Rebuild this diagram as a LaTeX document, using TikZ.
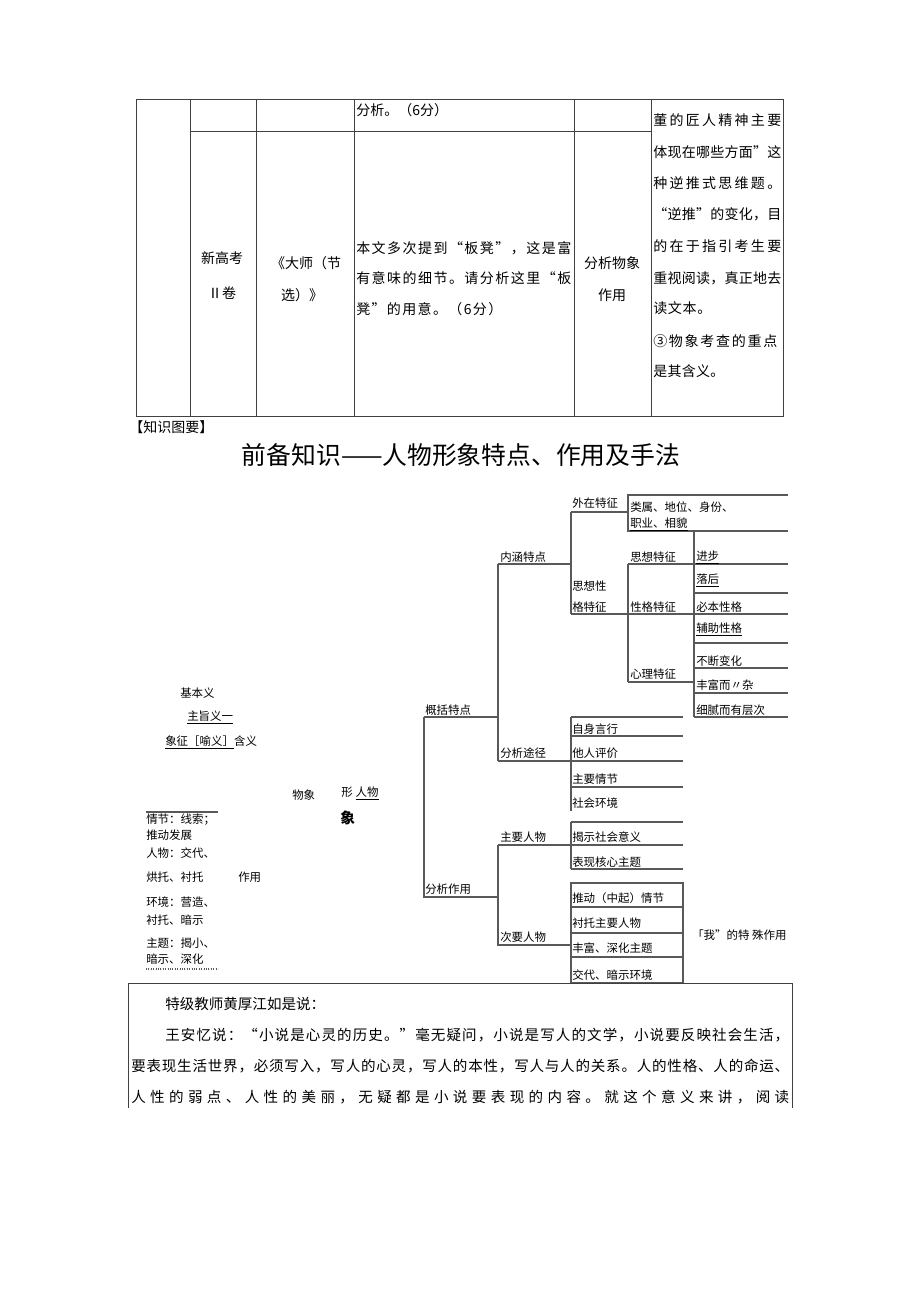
\documentclass[tikz,border=0pt]{standalone}
\usepackage{fontspec}
\newfontfamily\cjk{Noto Sans CJK SC}
\newlength\px \setlength\px{0.75pt}
\def\spreadit#1{\ifx\relax#1\else#1\hfil\expandafter\spreadit\fi}
\newcommand\jl[2]{\makebox[#1][s]{\spreadit#2\relax\unskip}}
\tikzset{
  tb/.style={anchor=west,inner sep=0,font=\cjk\fontsize{10.5}{12}\selectfont},
  tc/.style={anchor=center,inner sep=0,font=\cjk\fontsize{10.5}{12}\selectfont},
  mm/.style={anchor=west,inner sep=0,font=\cjk\fontsize{8.6}{10}\selectfont},
  bt/.style={anchor=west,inner sep=0,font=\cjk\fontsize{10.9}{12}\selectfont},
  rl/.style={line width=0.7pt,draw=black!75},
  ml/.style={line width=0.8pt,draw=black!65},
}
\begin{document}
\begin{tikzpicture}[x=0.75pt,y=-0.75pt]
\fill[white] (0,0) rectangle (920,1301);
\useasboundingbox (0,0) rectangle (920,1301);

% ---------------- table ----------------
\draw[rl] (136,99) rectangle (783,416);
\foreach \xx in {190,256,354,574,651} \draw[rl] (\xx,99) -- (\xx,416);
\draw[rl] (190,131) -- (651,131);

\node[tb] (t1) at (356,110) {分析。（6分）};
\node[tc] (t2) at (222,258) {新高考};
\node[tc] (t3) at (222,293) {Ⅱ卷};
\node[tc] (t4) at (306,263) {《大师（节};
\node[tc] (t5) at (302,295) {选）》};
\node[tb] (t6) at (356,248) {\jl{215\px}{本文多次提到“板凳”，这是富}};
\node[tb] (t7) at (356,278) {\jl{215\px}{有意味的细节。请分析这里“板}};
\node[tb] (t8) at (356,309) {\jl{146\px}{凳”的用意。（6分）}};
\node[tc] (t9) at (612,263) {分析物象};
\node[tc] (t10) at (612,295) {作用};
\node[tb] (c1) at (653,120) {\jl{128\px}{董的匠人精神主要}};
\node[tb] (c2) at (653,152) {\jl{128\px}{体现在哪些方面”这}};
\node[tb] (c3) at (653,183) {\jl{128\px}{种逆推式思维题。}};
\node[tb] (c4) at (653,214) {\jl{128\px}{“逆推”的变化，目}};
\node[tb] (c5) at (653,246) {\jl{128\px}{的在于指引考生要}};
\node[tb] (c6) at (653,278) {\jl{128\px}{重视阅读，真正地去}};
\node[tb] (c7) at (653,308) {\jl{58\px}{读文本。}};
\node[tb] (c8) at (653,341) {\jl{124\px}{③物象考查的重点}};
\node[tb] (c9) at (653,371) {\jl{71\px}{是其含义。}};

% ---------------- titles ----------------
\node[tb] (k1) at (129,427) {【知识图要】};
\node[anchor=center,inner sep=0,font=\cjk\fontsize{18.6}{20}\selectfont] (title) at (461,455) {前备知识——人物形象特点、作用及手法};

% ---------------- mind map lines ----------------
\draw[ml] (571,512) -- (628,512);
\draw[ml] (571,512) -- (571,614);
\draw[ml] (788,495) -- (628,495) -- (628,531) -- (788,531);
\draw[ml] (498,564) -- (571,564);
\draw[ml] (498,564) -- (498,761);
\draw[ml] (628,564) -- (788,564);
\draw[ml] (628,564) -- (628,682);
\draw[ml] (571,614) -- (788,614);
\draw[ml] (628,682) -- (694,682);
\draw[ml] (694,531) -- (694,717);
\foreach \yy in {593,643,668,693,717} \draw[ml] (694,\yy) -- (788,\yy);
\draw[ml] (424,717) -- (498,717);
\draw[ml] (424,717) -- (424,897) -- (498,897);
\draw[ml] (571,717) -- (571,811);
\foreach \yy in {717,736,787} \draw[ml] (571,\yy) -- (683,\yy);
\draw[ml] (498,761) -- (683,761);
\draw[ml] (571,822) -- (683,822);
\draw[ml] (498,845) -- (683,845);
\draw[ml] (571,869) -- (683,869);
\draw[ml] (571,822) -- (571,869);
\draw[ml] (498,845) -- (498,945) -- (571,945);
\draw[ml] (571,883) rectangle (683,983);
\foreach \yy in {907,933,957} \draw[ml] (571,\yy) -- (683,\yy);
\draw[ml] (146,812) -- (218,812);
\draw[ml,densely dotted] (146,969) -- (218,969);

% ---------------- mind map text ----------------
\node[mm] (a1) at (572,503) {外在特征};
\node[mm] (a2) at (630,507) {类属、地位、身份、};
\node[mm] (a3) at (630,524) {\underline{职业、相貌}};
\node[mm] (a4) at (500,557) {内涵特点};
\node[mm] (a5) at (630,557) {思想特征};
\node[mm] (a6) at (696,557) {\underline{进步}};
\node[mm] (a7) at (696,580) {\underline{落后}};
\node[mm] (a8) at (572,586) {思想性};
\node[mm] (a9) at (572,607) {格特征};
\node[mm] (a10) at (630,607) {性格特征};
\node[mm] (a11) at (696,607) {必本性格};
\node[mm] (a12) at (696,629) {\underline{辅助性格}};
\node[mm] (a13) at (696,661) {不断变化};
\node[mm] (a14) at (630,674) {心理特征};
\node[mm] (a15) at (696,685) {丰富而〃杂};
\node[mm] (a16) at (696,710) {细腻而有层次};
\node[mm] (b1) at (425,710) {概括特点};
\node[mm] (b2) at (572,729) {自身言行};
\node[mm] (b3) at (500,753) {分析途径};
\node[mm] (b4) at (572,753) {他人评价};
\node[mm] (b5) at (572,779) {主要情节};
\node[mm] (b6) at (572,803) {社会环境};
\node[mm] (b7) at (500,837) {主要人物};
\node[mm] (b8) at (572,837) {揭示社会意义};
\node[mm] (b9) at (572,862) {表现核心主题};
\node[mm] (b10) at (425,889) {分析作用};
\node[mm] (b11) at (572,898) {推动（中起）情节};
\node[mm] (b12) at (572,923) {衬托主要人物};
\node[mm] (b13) at (500,937) {次要人物};
\node[mm] (b14) at (572,948) {丰富、深化主题};
\node[mm] (b15) at (572,975) {交代、暗示环境};
\node[mm] (b16) at (692,935) {「我”的特 殊作用};

\node[mm] (l1) at (180,693) {基本义};
\node[mm] (l2) at (187,717) {\underline{主旨义一}};
\node[mm] (l3) at (165,742) {\underline{象征［喻义］}含义};
\node[mm] (l4) at (292,795) {物象};
\node[mm] (l5) at (341,793) {形\hspace{3\px}\underline{人物}};
\node[anchor=west,inner sep=0,font=\cjk\fontsize{11}{12}\selectfont\bfseries] (l6) at (340,818) {象};
\node[mm] (l7) at (146,820) {情节：线索；};
\node[mm] (l8) at (146,835) {推动发展};
\node[mm] (l9) at (146,853) {人物：交代、};
\node[mm] (l10) at (146,877) {烘托、衬托};
\node[mm] (l11) at (238,877) {作用};
\node[mm] (l12) at (146,902) {环境：营造、};
\node[mm] (l13) at (146,920) {衬托、暗示};
\node[mm] (l14) at (146,943) {主题：揭小、};
\node[mm] (l15) at (146,959) {暗示、深化};

% ---------------- bottom box ----------------
\draw[rl] (128,1108) -- (128,983) -- (792,983) -- (792,1108);
\node[bt] (p1) at (165,1004) {特级教师黄厚江如是说：};
\node[bt] (p2) at (165,1035) {\jl{624\px}{王安忆说：“小说是心灵的历史。”毫无疑问，小说是写人的文学，小说要反映社会生活，}};
\node[bt] (p3) at (131,1066) {\jl{658\px}{要表现生活世界，必须写入，写人的心灵，写人的本性，写人与人的关系。人的性格、人的命运、}};
\node[bt] (p4) at (131,1097) {\jl{658\px}{人性的弱点、人性的美丽，无疑都是小说要表现的内容。就这个意义来讲，阅读}};
\end{tikzpicture}
\end{document}
